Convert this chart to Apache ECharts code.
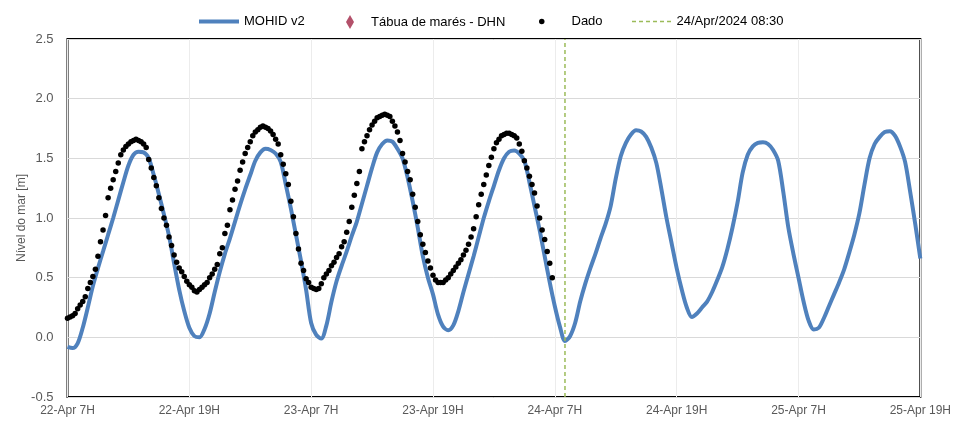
<!DOCTYPE html>
<html>
<head>
<meta charset="utf-8">
<script src="https://cdn.jsdelivr.net/npm/echarts@6/dist/echarts.min.js"></script>
<style>html,body{margin:0;padding:0;background:#fff}#c{width:954px;height:422px}</style>
</head>
<body>
<div id="c"></div>
<script>
// X axis: hours since 22-Apr 07:30 (axis start); ticks every 12 h
const xTickLabels = ['22-Apr 7H','22-Apr 19H','23-Apr 7H','23-Apr 19H','24-Apr 7H','24-Apr 19H','25-Apr 7H','25-Apr 19H'];
const yTicks = [-0.5, 0.0, 0.5, 1.0, 1.5, 2.0, 2.5];

// MOHID v2 model, every 30 minutes from axis start (m)
const mohidV2 = [
 -0.08,-0.09,-0.05,0.08,0.25,0.43,0.58,0.72,0.86,1.00,
  1.15,1.30,1.44,1.53,1.555,1.55,1.50,1.36,1.20,1.03,
  0.85,0.62,0.40,0.22,0.08,0.01,0.00,0.07,0.20,0.38,
  0.55,0.70,0.83,0.97,1.11,1.24,1.36,1.48,1.55,1.58,
  1.57,1.54,1.47,1.28,1.08,0.86,0.64,0.40,0.12,0.02,
 -0.01,0.10,0.30,0.47,0.60,0.72,0.85,0.97,1.12,1.27,
  1.42,1.55,1.62,1.65,1.64,1.58,1.50,1.34,1.14,0.92,
  0.68,0.50,0.36,0.19,0.09,0.06,0.10,0.22,0.38,0.53,
  0.68,0.84,1.00,1.14,1.27,1.40,1.50,1.555,1.565,1.54,
  1.48,1.30,1.10,0.90,0.68,0.46,0.26,0.09,-0.03,0.01,
  0.12,0.30,0.45,0.58,0.70,0.83,0.95,1.10,1.33,1.52,
  1.63,1.70,1.735,1.725,1.68,1.59,1.46,1.24,1.00,0.79,
  0.58,0.40,0.25,0.17,0.20,0.25,0.30,0.38,0.48,0.59,
  0.74,0.92,1.13,1.38,1.53,1.60,1.63,1.635,1.62,1.57,
  1.48,1.22,0.92,0.70,0.50,0.30,0.14,0.065,0.08,0.16,
  0.26,0.36,0.46,0.57,0.71,0.86,1.04,1.28,1.50,1.62,
  1.68,1.72,1.728,1.69,1.60,1.47,1.22,0.95,0.66
];

// Observed data ("Dado"), every 15 minutes from axis start (m)
const dado = [
 0.16,0.17,0.18,0.20, 0.24,0.27,0.30,0.34, 0.41,0.46,0.51,0.57, 0.68,0.80,0.90,1.02,
 1.17,1.25,1.32,1.39, 1.46,1.53,1.57,1.60, 1.62,1.64,1.65,1.66, 1.65,1.64,1.62,1.59,
 1.49,1.42,1.34,1.27, 1.17,1.08,1.00,0.94, 0.84,0.77,0.69,0.63, 0.58,0.55,0.51,0.47,
 0.44,0.42,0.39,0.38, 0.40,0.42,0.44,0.46, 0.50,0.53,0.57,0.61, 0.70,0.75,0.87,0.94,
 1.07,1.15,1.24,1.31, 1.40,1.47,1.54,1.59, 1.64,1.69,1.72,1.74, 1.76,1.77,1.76,1.75,
 1.73,1.70,1.66,1.62, 1.53,1.45,1.37,1.28, 1.14,1.01,0.87,0.74, 0.62,0.56,0.49,0.46,
 0.42,0.41,0.40,0.41, 0.45,0.50,0.53,0.56, 0.60,0.63,0.67,0.70, 0.76,0.80,0.88,0.97,
 1.09,1.19,1.29,1.39, 1.58,1.64,1.69,1.74, 1.78,1.81,1.84,1.85, 1.86,1.87,1.86,1.85,
 1.81,1.77,1.72,1.65, 1.54,1.47,1.39,1.32, 1.20,1.09,0.97,0.86, 0.78,0.71,0.64,0.58,
 0.52,0.48,0.46,0.46, 0.46,0.48,0.50,0.53, 0.56,0.59,0.62,0.65, 0.69,0.73,0.78,0.84,
 0.91,1.01,1.11,1.20, 1.28,1.36,1.44,1.51, 1.58,1.63,1.66,1.69, 1.70,1.71,1.71,1.70,
 1.69,1.67,1.62,1.56, 1.48,1.42,1.35,1.28, 1.21,1.10,1.00,0.90, 0.82,0.72,0.62,0.50
];

// Tábua de marés - DHN (no points visible in the chart)
const tabuaDHN = [];

// Reference time marker: 24/Apr/2024 08:30 -> hours since axis start
const markerLabel = '24/Apr/2024 08:30';
const markerHour = 49;

const modelData = mohidV2.map((v, i) => [i / 2, v]);
const dadoData = dado.map((v, i) => [i / 4, v]);

const chart = echarts.init(document.getElementById('c'), null, {renderer: 'canvas'});
const FONT = 'Liberation Sans, Arial, sans-serif';
const legendText = {color: '#000', fontSize: 13, fontFamily: FONT};
chart.setOption({
  animation: false,
  backgroundColor: '#fff',
  grid: {left: 67.5, right: 31, top: 39, bottom: 25, show: true, borderColor: '#000', borderWidth: 2, backgroundColor: 'transparent'},
  legend: [
    {data: [{name: 'MOHID v2', icon: 'path://M0,0H40V4H0Z', itemStyle: {color: '#4F81BD', borderWidth: 0}, lineStyle: {width: 0, opacity: 0}}],
     left: 194, top: 10, itemWidth: 40, itemHeight: 4, textStyle: legendText, selectedMode: false},
    {data: [{name: 'Tábua de marés - DHN', icon: 'diamond'}], left: 341, top: 10, itemWidth: 8, itemHeight: 14,
     textStyle: Object.assign({padding: [0, 0, 0, 12]}, legendText), selectedMode: false},
    {data: [{name: 'Dado', icon: 'circle'}], left: 534, top: 10, itemWidth: 5.5, itemHeight: 14,
     textStyle: Object.assign({padding: [0, 0, 0, 22]}, legendText), selectedMode: false},
    {data: [{name: markerLabel, icon: 'path://M0,0H4V1.5H0Z M7,0H11V1.5H7Z M14,0H18V1.5H14Z M21,0H25V1.5H21Z M28,0H32V1.5H28Z M35,0H39V1.5H35Z',
             itemStyle: {color: '#9BBB59', borderWidth: 0}, lineStyle: {width: 0, opacity: 0}}],
     left: 627, top: 10, itemWidth: 40, itemHeight: 1.5, textStyle: legendText, selectedMode: false}
  ],
  xAxis: {
    type: 'value', min: 0, max: 84, interval: 12,
    axisLine: {show: false}, axisTick: {show: false},
    splitLine: {show: true, lineStyle: {color: '#ececec', width: 1}},
    axisLabel: {
      color: '#595959', fontSize: 12, fontFamily: FONT, margin: 8,
      formatter: v => xTickLabels[Math.round(v / 12)] || ''
    }
  },
  yAxis: {
    type: 'value', min: yTicks[0], max: yTicks[yTicks.length - 1], interval: 0.5,
    name: 'Nível do mar [m]', nameLocation: 'middle', nameGap: 40, nameRotate: 90, nameMoveOverlap: false,
    nameTextStyle: {color: '#595959', fontSize: 12, fontFamily: FONT},
    axisLine: {show: false}, axisTick: {show: false},
    splitLine: {show: true, lineStyle: {color: '#d9d9d9', width: 1}},
    axisLabel: {color: '#595959', fontSize: 13, fontFamily: FONT, margin: 14, formatter: v => v.toFixed(1)}
  },
  series: [
    {
      name: 'MOHID v2', type: 'line', data: modelData, smooth: 0.3, symbol: 'none',
      lineStyle: {color: '#4F81BD', width: 4}, itemStyle: {color: '#4F81BD'}, z: 2
    },
    {
      name: 'Tábua de marés - DHN', type: 'scatter', data: tabuaDHN, symbol: 'diamond', symbolSize: 8,
      itemStyle: {color: '#B3506A', opacity: 1}, z: 3
    },
    {
      name: 'Dado', type: 'scatter', data: dadoData, symbol: 'circle', symbolSize: 5.5,
      itemStyle: {color: '#000', opacity: 1}, z: 4
    },
    {
      name: markerLabel, type: 'line', data: [[markerHour, yTicks[0]], [markerHour, yTicks[yTicks.length - 1]]],
      symbol: 'none', lineStyle: {color: '#9BBB59', width: 1.5, type: [4, 3]}, itemStyle: {color: '#9BBB59'}, z: 5
    }
  ]
});
</script>
</body>
</html>
